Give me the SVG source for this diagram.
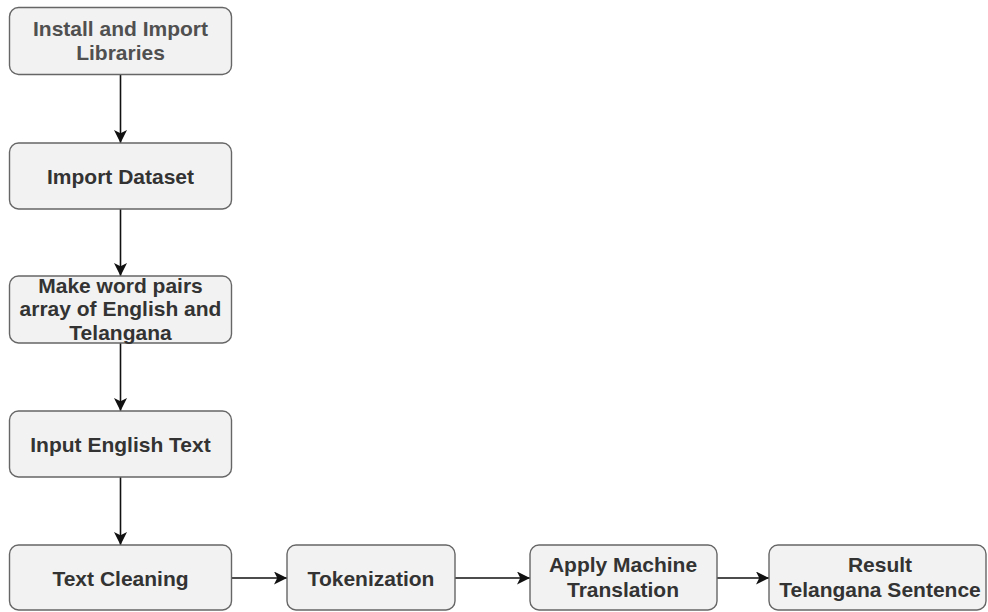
<svg xmlns="http://www.w3.org/2000/svg" width="988" height="612" viewBox="0 0 988 612">
<style>
.box{fill:#f2f2f2;stroke:#666;stroke-width:1.4}
.t{font-family:"Liberation Sans",Arial,sans-serif;font-weight:bold;font-size:21px;fill:#333;text-anchor:middle}
.c{stroke:#111;stroke-width:1.6;fill:none}
</style>
<defs>
<marker id="ah" viewBox="0 0 10 10" refX="10" refY="5" markerWidth="13" markerHeight="13" markerUnits="userSpaceOnUse" orient="auto">
<path d="M0,0 L10,5 L0,10 L2.5,5 Z" fill="#111"/>
</marker>
</defs>
<rect width="988" height="612" fill="#fff"/>
<g id="connectors">
<line class="c" x1="120.5" y1="75" x2="120.5" y2="143" marker-end="url(#ah)"/>
<line class="c" x1="120.5" y1="209" x2="120.5" y2="276" marker-end="url(#ah)"/>
<line class="c" x1="120.5" y1="343" x2="120.5" y2="411" marker-end="url(#ah)"/>
<line class="c" x1="120.5" y1="477" x2="120.5" y2="545" marker-end="url(#ah)"/>
<line class="c" x1="232" y1="578" x2="287" y2="578" marker-end="url(#ah)"/>
<line class="c" x1="455" y1="578" x2="530" y2="578" marker-end="url(#ah)"/>
<line class="c" x1="717" y1="578" x2="769" y2="578" marker-end="url(#ah)"/>
</g>
<g id="n1">
<rect class="box" x="9.5" y="7.5" width="222" height="67" rx="9"/>
<text class="t" x="120.5" y="36" style="fill:#505050">Install and Import</text>
<text class="t" x="120.5" y="60" style="fill:#505050">Libraries</text>
</g>
<g id="n2">
<rect class="box" x="9.5" y="143" width="222" height="66" rx="9"/>
<text class="t" x="120.5" y="184">Import Dataset</text>
</g>
<g id="n3">
<rect class="box" x="9.5" y="276" width="222" height="67" rx="9"/>
<text class="t" x="120.5" y="293">Make word pairs</text>
<text class="t" x="120.5" y="316">array of English and</text>
<text class="t" x="120.5" y="340">Telangana</text>
</g>
<g id="n4">
<rect class="box" x="9.5" y="411" width="222" height="66" rx="9"/>
<text class="t" x="120.5" y="452">Input English Text</text>
</g>
<g id="n5">
<rect class="box" x="9.5" y="545" width="222" height="65" rx="9"/>
<text class="t" x="120.5" y="586">Text Cleaning</text>
</g>
<g id="n6">
<rect class="box" x="287" y="545" width="168" height="65" rx="9"/>
<text class="t" x="371" y="586">Tokenization</text>
</g>
<g id="n7">
<rect class="box" x="530" y="545" width="187" height="65" rx="9"/>
<text class="t" x="623" y="572">Apply Machine</text>
<text class="t" x="623" y="597">Translation</text>
</g>
<g id="n8">
<rect class="box" x="769" y="545" width="217" height="65" rx="9"/>
<text class="t" x="880" y="572">Result</text>
<text class="t" x="880" y="597">Telangana Sentence</text>
</g>
</svg>
